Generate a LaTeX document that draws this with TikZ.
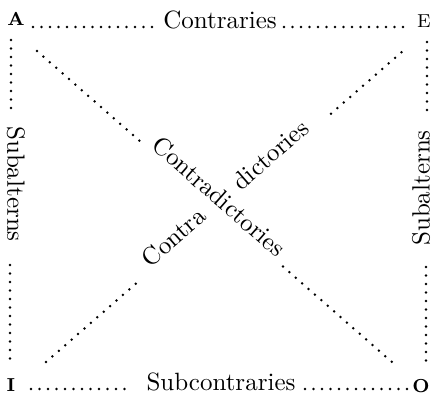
\documentclass[tikz,border=0pt]{standalone}
\begin{document}
\begin{tikzpicture}[x=0.4pt,y=-0.4pt,
  dotline/.style={line width=1.1pt, line cap=round, dash pattern=on 0pt off 3.4pt},
  lbl/.style={font=\fontsize{10}{12}\selectfont, inner sep=0pt},
  corner/.style={font=\fontsize{7.5}{9}\selectfont, inner sep=0pt, anchor=base}]
\useasboundingbox (0,0) rectangle (432,393);
% corners
\node[corner, font=\fontsize{7.5}{9}\selectfont\bfseries] (A) at (16,25) {A};
\node[corner] (E) at (424,27) {E};
\node[corner, font=\fontsize{7.5}{9}\selectfont\bfseries] (I) at (11,391) {I};
\node[corner, font=\fontsize{7.5}{9}\selectfont\bfseries] (O) at (421,392) {O};
% labels
\node[lbl, anchor=base] (contraries) at (220,28.5) {Contraries};
\node[lbl, anchor=base] (subcontraries) at (221,390) {Subcontraries};
\node[lbl, rotate=-90] (subL) at (16,184) {Subalterns};
\node[lbl, rotate=90] (subR) at (421,188) {Subalterns};
\node[lbl, anchor=base, rotate=-41.2] (contradictories) at (213.5,203) {Contradictories};
\node[lbl, anchor=base, rotate=41.1] (contra) at (179,243.5) {Contra};
\node[lbl, anchor=base, rotate=41.1] (dictories) at (276,161) {dictories};
% dot-line end points
\coordinate (t1) at (33,27);  \coordinate (t2) at (153,27);
\coordinate (t3) at (284,27); \coordinate (t4) at (407,27);
\coordinate (b1) at (31,389); \coordinate (b2) at (128,389);
\coordinate (b3) at (305,389); \coordinate (b4) at (408,389);
\coordinate (l1) at (11,40);  \coordinate (l2) at (11,116);
\coordinate (l3) at (10,265); \coordinate (l4) at (10,365);
\coordinate (r1) at (427,42); \coordinate (r2) at (427,118);
\coordinate (r3) at (426,267); \coordinate (r4) at (426,367);
\coordinate (d1) at (37,51);   \coordinate (d2) at (140.8,141.9);
\coordinate (d3) at (283,266.6); \coordinate (d4) at (392.7,362.7);
\coordinate (e1) at (46,362);  \coordinate (e2) at (137.2,282.5);
\coordinate (e3) at (331,113.7); \coordinate (e4) at (401.9,51.9);
% dotted connectors
\draw[dotline] (t1) -- (t2);
\draw[dotline] (t3) -- (t4);
\draw[dotline] (b1) -- (b2);
\draw[dotline] (b3) -- (b4);
\draw[dotline] (l1) -- (l2);
\draw[dotline] (l3) -- (l4);
\draw[dotline] (r1) -- (r2);
\draw[dotline] (r3) -- (r4);
\draw[dotline] (d1) -- (d2);
\draw[dotline] (d3) -- (d4);
\draw[dotline] (e1) -- (e2);
\draw[dotline] (e3) -- (e4);
\end{tikzpicture}
\end{document}
